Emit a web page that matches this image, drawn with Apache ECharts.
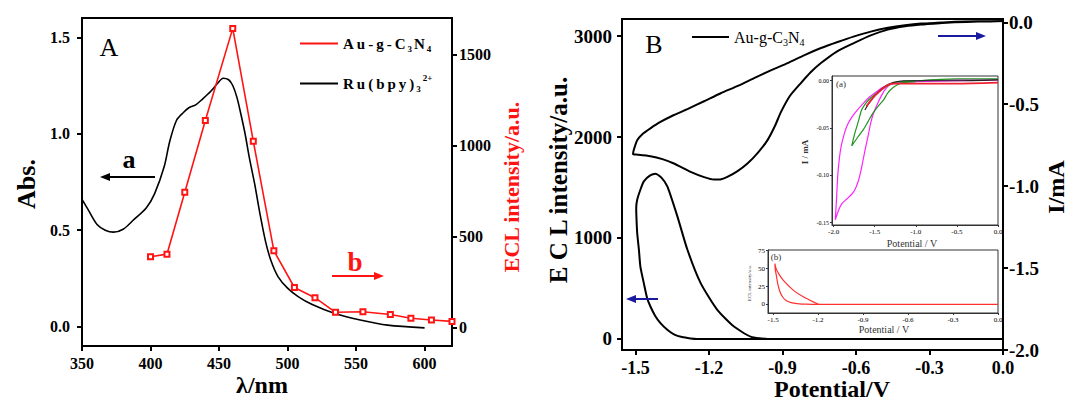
<!DOCTYPE html>
<html><head><meta charset="utf-8">
<script src="https://cdn.jsdelivr.net/npm/echarts@6/dist/echarts.min.js"></script>
<style>html,body{margin:0;padding:0;background:#fff}#c{width:1069px;height:401px}</style>
</head><body><div id="c"></div>
<script>
// ---------- Panel A : absorbance (left axis) and ECL spectrum (right axis) ----------
const absWavelength = [350,355,361,367,373,380,388,397,403,410,414,419,424,428,433,438,444,449,453,457,460,463,466,469,472,476,480,484,488,493,500,508,518,534,553,573,600];
const absValue = [0.66,0.60,0.53,0.50,0.49,0.505,0.556,0.617,0.69,0.83,0.96,1.07,1.11,1.135,1.15,1.18,1.22,1.262,1.288,1.28,1.25,1.19,1.10,1.00,0.88,0.74,0.58,0.44,0.34,0.26,0.20,0.155,0.115,0.07,0.035,0.008,-0.006];
const eclWavelength = [400,412,425,440,460,475,490,505,520,535,555,575,590,605,620];
const eclIntensity = [390,404,744,1138,1643,1024,423,221,165,85,88,73,52,43,35];
const xTicksA = [350,400,450,500,550,600];
const absTicks = [0,0.5,1.0,1.5];
const eclTicksA = [0,500,1000,1500];

// ---------- Panel B : CV current (right axis) and ECL-potential (left axis) ----------
const cvPotential = [0.0,-0.1,-0.197,-0.25,-0.334,-0.40,-0.47,-0.54,-0.607,-0.675,-0.743,-0.81,-0.879,-0.95,-1.016,-1.08,-1.152,-1.22,-1.288,-1.343,-1.40,-1.439,-1.47,-1.493,-1.507,-1.51,
  -1.49,-1.439,-1.39,-1.343,-1.275,-1.22,-1.18,-1.15,-1.125,-1.085,-1.043,-1.0,-0.961,-0.93,-0.907,-0.87,-0.825,-0.785,-0.743,-0.68,-0.607,-0.54,-0.47,-0.40,-0.334,-0.25,-0.197,-0.1,0.0];
const cvCurrent = [0.008,0.006,0.003,-0.002,-0.008,-0.018,-0.034,-0.057,-0.086,-0.12,-0.157,-0.2,-0.249,-0.295,-0.341,-0.387,-0.433,-0.482,-0.53,-0.566,-0.61,-0.647,-0.68,-0.72,-0.78,-0.806,
  -0.808,-0.817,-0.835,-0.862,-0.913,-0.945,-0.96,-0.958,-0.944,-0.91,-0.862,-0.795,-0.719,-0.63,-0.55,-0.45,-0.371,-0.305,-0.249,-0.18,-0.126,-0.08,-0.045,-0.025,-0.014,-0.005,0.0,0.004,0.006];
const eclBPotential = [0.0,-0.96,-1.03,-1.098,-1.166,-1.234,-1.288,-1.329,-1.37,-1.395,-1.418,-1.44,-1.466,-1.48,-1.493,-1.497,-1.496,-1.493,-1.486,-1.48,-1.466,-1.452,-1.439,-1.42,-1.398,-1.37,-1.343,-1.31,-1.275,-1.25,0.0];
const eclBIntensity = [0,0,23,122,288,553,883,1214,1511,1600,1637,1620,1561,1478,1379,1297,1200,1049,883,717,553,400,321,230,156,90,45,18,5,0,0];
const xTicksB = [-1.5,-1.2,-0.9,-0.6,-0.3,0.0];
const eclTicksB = [0,1000,2000,3000];
const currentTicksB = [-2.0,-1.5,-1.0,-0.5,0.0];

// ---------- Inset (a) : CVs ----------
const magentaPotential = [0.0,-0.5,-1.0,-1.2,-1.31,-1.39,-1.47,-1.56,-1.64,-1.74,-1.79,-1.84,-1.87,-1.91,-1.93,-1.95,-1.965,-1.98,-1.94,-1.90,-1.84,-1.78,-1.74,-1.70,-1.67,-1.64,-1.61,-1.58,-1.55,-1.51,-1.47,-1.42,-1.37,-1.31,-1.2,-1.0,-0.5,0.0];
const magentaCurrent = [0.001,0.001,0.0,-0.002,-0.004,-0.0065,-0.011,-0.017,-0.024,-0.034,-0.04,-0.048,-0.056,-0.07,-0.082,-0.10,-0.125,-0.147,-0.137,-0.130,-0.125,-0.12,-0.115,-0.106,-0.096,-0.083,-0.07,-0.058,-0.045,-0.033,-0.025,-0.016,-0.009,-0.004,-0.002,-0.001,0.0,0.001];
const greenPotential = [0.0,-0.5,-1.0,-1.2,-1.31,-1.39,-1.47,-1.56,-1.61,-1.66,-1.69,-1.72,-1.75,-1.78,-1.71,-1.64,-1.58,-1.52,-1.45,-1.39,-1.35,-1.31,-1.23,-1.15,-1.0];
const greenCurrent = [0.002,0.002,0.0,-0.001,-0.004,-0.008,-0.013,-0.019,-0.024,-0.031,-0.04,-0.049,-0.058,-0.069,-0.06,-0.052,-0.043,-0.034,-0.026,-0.02,-0.014,-0.0098,-0.0045,-0.002,-0.001];
const blackPotential = [-1.62,-1.58,-1.52,-1.47,-1.42,-1.36,-1.28,-1.15,-1.0,-0.5,0.0];
const blackCurrent = [-0.031,-0.025,-0.018,-0.013,-0.009,-0.005,-0.002,0.0,0.0,0.0,0.001];
const redPotential = [-1.60,-1.55,-1.50,-1.45,-1.40,-1.35,-1.28,-1.2,-1.0,-0.5,0.0];
const redCurrent = [-0.027,-0.021,-0.016,-0.012,-0.008,-0.005,-0.003,-0.003,-0.003,-0.003,-0.002];
const insetAxTicks = [-2.0,-1.5,-1.0,-0.5,0.0];
const insetAyTicks = [-0.15,-0.10,-0.05,0.0];

// ---------- Inset (b) : ECL ----------
const insetEclPotential = [0.0,-1.19,-1.232,-1.299,-1.366,-1.433,-1.46,-1.48,-1.488,-1.485,-1.478,-1.47,-1.455,-1.435,-1.41,-1.38,-1.34,-1.28,-1.2,0.0];
const insetEclIntensity = [0,0,3.6,10.6,20,34,42,50,57,48,40,30,18,10,5,2.5,1.2,0.3,0,0];
const insetBxTicks = [-1.5,-1.2,-0.9,-0.6,-0.3,0.0];
const insetByTicks = [0,25,50,75];

// ---------------------------------------------------------------------
const SERIF = '"Liberation Serif", "Times New Roman", serif';
const zip = (a, b) => a.map((v, i) => [v, b[i]]);
const plain = v => String(v);

function axis(o) {
  const lw = o.lw || 2;
  return {
    type: 'value', gridIndex: o.grid, position: o.position, min: o.min, max: o.max,
    axisLine: { show: true, onZero: false, lineStyle: { color: o.lineColor || '#000', width: lw } },
    axisTick: { show: true, inside: false, length: o.tickLen || 5, customValues: o.ticks,
                lineStyle: { color: o.lineColor || '#000', width: lw } },
    axisLabel: { customValues: o.ticks, margin: o.margin, formatter: o.fmt || plain,
                 fontFamily: SERIF, fontWeight: o.weight || 'bold', fontSize: o.fs, color: o.labelColor || '#000' },
    splitLine: { show: false }
  };
}

const chart = echarts.init(document.getElementById('c'), null, { renderer: 'svg' });

const T = '\u2009';
const spaced = s => s.split('').join(T);
const richA = {
  n: { fontFamily: SERIF, fontWeight: 'bold', fontSize: 15, color: '#000', lineHeight: 20 },
  s: { fontFamily: SERIF, fontWeight: 'bold', fontSize: 9, color: '#000', lineHeight: 20, verticalAlign: 'bottom', padding: [0, 2, 0, 2] },
  p: { fontFamily: SERIF, fontWeight: 'bold', fontSize: 9, color: '#000', lineHeight: 20, verticalAlign: 'top' }
};
const richB = {
  n: { fontFamily: SERIF, fontSize: 16, color: '#000', lineHeight: 20 },
  s: { fontFamily: SERIF, fontSize: 10, color: '#000', lineHeight: 20, verticalAlign: 'bottom' }
};

function txt(text, x, y, font, fill, rot) {
  return { type: 'text', x: x, y: y, rotation: rot || 0, silent: true, z: 100,
           style: { text: text, font: font, fill: fill || '#000', align: 'center', verticalAlign: 'middle' } };
}
function arrow(x1, x2, y, color) {
  const dir = x2 > x1 ? 1 : -1;
  return [
    { type: 'line', silent: true, z: 100, shape: { x1: x1, y1: y, x2: x2 - dir * 6, y2: y }, style: { stroke: color, lineWidth: 2 } },
    { type: 'polygon', silent: true, z: 100, shape: { points: [[x2, y], [x2 - dir * 10, y - 4], [x2 - dir * 10, y + 4]] }, style: { fill: color } }
  ];
}

const BLUE = '#1a1a9e';
const RED = '#ff1414';

const option = {
  animation: false,
  backgroundColor: '#fff',
  grid: [
    { left: 82, top: 18, width: 370, height: 328, show: true, borderColor: '#000', borderWidth: 2, backgroundColor: 'transparent' },
    { left: 622, top: 19, width: 381, height: 331, show: true, borderColor: '#000', borderWidth: 2, backgroundColor: 'transparent' },
    { left: 832, top: 76, width: 166, height: 149, show: true, borderColor: '#333', borderWidth: 1, backgroundColor: '#fff' },
    { left: 768, top: 250, width: 230, height: 63, show: true, borderColor: '#333', borderWidth: 1, backgroundColor: '#fff' }
  ],
  xAxis: [
    axis({ grid: 0, position: 'bottom', min: 350, max: 620, ticks: xTicksA, fs: 16, margin: 9 }),
    axis({ grid: 1, position: 'bottom', min: -1.555, max: 0, ticks: xTicksB, fs: 18, margin: 9, fmt: v => (+v).toFixed(1) }),
    axis({ grid: 2, position: 'bottom', min: -2.02, max: 0, ticks: insetAxTicks, fs: 7, margin: 3, lw: 1, tickLen: 2, weight: 'normal', lineColor: '#333', fmt: v => (+v).toFixed(1) }),
    axis({ grid: 3, position: 'bottom', min: -1.534, max: 0, ticks: insetBxTicks, fs: 7, margin: 3, lw: 1, tickLen: 2, weight: 'normal', lineColor: '#333', fmt: v => (+v).toFixed(1) })
  ],
  yAxis: [
    axis({ grid: 0, position: 'left', min: -0.1, max: 1.6, ticks: absTicks, fs: 16, margin: 12, fmt: v => (+v).toFixed(1) }),
    axis({ grid: 0, position: 'right', min: -100, max: 1700, ticks: eclTicksA, fs: 16, margin: 7 }),
    axis({ grid: 1, position: 'left', min: -110, max: 3170, ticks: eclTicksB, fs: 19, margin: 10 }),
    axis({ grid: 1, position: 'right', min: -2.0, max: 0.02, ticks: currentTicksB, fs: 19, margin: 6, fmt: v => (+v).toFixed(1) }),
    axis({ grid: 2, position: 'left', min: -0.1525, max: 0.005, ticks: insetAyTicks, fs: 6, margin: 3, lw: 1, tickLen: 2, weight: 'normal', lineColor: '#333', fmt: v => (+v).toFixed(2) }),
    axis({ grid: 3, position: 'left', min: -12, max: 76, ticks: insetByTicks, fs: 7, margin: 3, lw: 1, tickLen: 2, weight: 'normal', lineColor: '#333' })
  ],
  legend: [
    { left: 295, top: 31, orient: 'vertical', itemGap: 20, itemWidth: 38, itemHeight: 2, icon: 'rect', selectedMode: false,
      data: ['Au-g-C3N4', 'Ru(bpy)3 2+'],
      formatter: n => n === 'Au-g-C3N4'
        ? '{n|' + spaced('Au-g-C') + '}{s|3}{n|N}{s|4}'
        : '{n|' + spaced('Ru(bpy)') + '}{s|3}{p|2+}',
      textStyle: { rich: richA } },
    { left: 687, top: 24, itemWidth: 37, itemHeight: 2, icon: 'rect', selectedMode: false,
      data: ['Au-g-C3N4 CV'],
      formatter: () => '{n|Au-g-C}{s|3}{n|N}{s|4}',
      textStyle: { rich: richB } }
  ],
  series: [
    { name: 'Ru(bpy)3 2+', type: 'line', xAxisIndex: 0, yAxisIndex: 0, data: zip(absWavelength, absValue),
      showSymbol: false, symbol: 'none', smooth: 0.3, lineStyle: { color: '#000', width: 1.6 }, itemStyle: { color: '#000' } },
    { name: 'Au-g-C3N4', type: 'line', xAxisIndex: 0, yAxisIndex: 1, data: zip(eclWavelength, eclIntensity),
      symbol: 'emptyRect', symbolSize: 5, lineStyle: { color: RED, width: 1.6 }, itemStyle: { color: RED, borderWidth: 1 } },
    { name: 'Au-g-C3N4 CV', type: 'line', xAxisIndex: 1, yAxisIndex: 3, data: zip(cvPotential, cvCurrent),
      symbol: 'none', smooth: 0.2, lineStyle: { color: '#000', width: 2 }, itemStyle: { color: '#000' } },
    { name: 'Au-g-C3N4 ECL', type: 'line', xAxisIndex: 1, yAxisIndex: 2, data: zip(eclBPotential, eclBIntensity),
      symbol: 'none', smooth: 0.2, lineStyle: { color: '#000', width: 2 }, itemStyle: { color: '#000' } },
    { name: 'inset magenta', type: 'line', xAxisIndex: 2, yAxisIndex: 4, data: zip(magentaPotential, magentaCurrent),
      symbol: 'none', smooth: 0.2, lineStyle: { color: '#ff22ff', width: 1.2 }, itemStyle: { color: '#ff22ff' } },
    { name: 'inset green', type: 'line', xAxisIndex: 2, yAxisIndex: 4, data: zip(greenPotential, greenCurrent),
      symbol: 'none', smooth: 0.2, lineStyle: { color: '#1f951f', width: 1.2 }, itemStyle: { color: '#1f951f' } },
    { name: 'inset black', type: 'line', xAxisIndex: 2, yAxisIndex: 4, data: zip(blackPotential, blackCurrent),
      symbol: 'none', smooth: 0.2, lineStyle: { color: '#222', width: 1.2 }, itemStyle: { color: '#222' } },
    { name: 'inset red', type: 'line', xAxisIndex: 2, yAxisIndex: 4, data: zip(redPotential, redCurrent),
      symbol: 'none', smooth: 0.2, lineStyle: { color: '#ee2233', width: 1.8 }, itemStyle: { color: '#ee2233' } },
    { name: 'inset ECL', type: 'line', xAxisIndex: 3, yAxisIndex: 5, data: zip(insetEclPotential, insetEclIntensity),
      symbol: 'none', smooth: 0.2, lineStyle: { color: '#ff3030', width: 1.2 }, itemStyle: { color: '#ff3030' } }
  ],
  graphic: [].concat(
    [
      txt('A', 109, 47, '26px ' + SERIF),
      txt('a', 129, 159, 'bold 26px ' + SERIF),
      txt('b', 355, 262, 'bold 27px ' + SERIF, RED),
      txt('Abs.', 26, 184, 'bold 26px ' + SERIF, '#000', Math.PI / 2),
      txt('λ/nm', 262, 385, 'bold 24px ' + SERIF),
      txt('ECL intensity/a.u.', 511, 187, 'bold 22px ' + SERIF, RED, Math.PI / 2),
      txt('B', 654, 44, '26px ' + SERIF),
      txt('E C L intensity/a.u.', 558, 180, 'bold 25px ' + SERIF, '#000', Math.PI / 2),
      txt('Potential/V', 832, 389, 'bold 24px ' + SERIF),
      txt('I/mA', 1056, 187, 'bold 24px ' + SERIF, '#000', Math.PI / 2),
      txt('(a)', 841, 84, '9px ' + SERIF, '#333'),
      txt('I / mA', 805, 152, 'bold 9px ' + SERIF, '#333', Math.PI / 2),
      txt('Potential / V', 912, 243, '10px ' + SERIF, '#333'),
      txt('(b)', 776, 257, '9px ' + SERIF, '#333'),
      txt('Potential / V', 884, 329, '10px ' + SERIF, '#333'),
      txt('ECL intensity/a.u.', 749, 283, '5px ' + SERIF, '#333', Math.PI / 2)
    ],
    arrow(155, 100, 177, '#000'),
    arrow(332, 384, 276, RED),
    arrow(938, 986, 36, BLUE),
    arrow(658, 626, 299, BLUE)
  )
};
chart.setOption(option);
</script>
</body></html>
